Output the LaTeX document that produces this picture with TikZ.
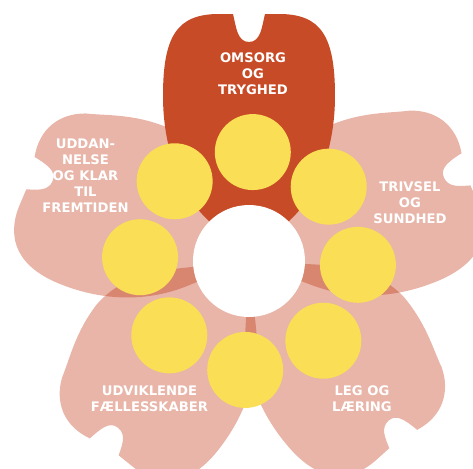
\documentclass[tikz,border=0pt]{standalone}
\usepackage{fontspec}
\setsansfont{DejaVu Sans}
\usepackage{tikz}
\usetikzlibrary{positioning}
\usepackage{xcolor}

\definecolor{petalred}{RGB}{200,75,39}
\definecolor{petalpink}{RGB}{232,181,168}
\definecolor{seampink}{RGB}{217,134,113}
\definecolor{dotyellow}{RGB}{250,222,85}

% top petal, pointing up from the centre of the flower
\newcommand{\toppetal}{(0,0) -- (-47,47) .. controls (-70,72) and (-86,115) .. (-86,165)
  .. controls (-86,225) and (-72,247) .. (-30,247) -- (-16,247)
  .. controls (-13,235) and (-12,219) .. (0,219) .. controls (12,219) and (13,235) .. (16,247)
  -- (30,247) .. controls (72,247) and (86,225) .. (86,165)
  .. controls (86,115) and (70,72) .. (47,47) -- cycle}
% side petal, a bit lopsided (mirror it for the right hand side)
\newcommand{\sidepetal}{(0,0) -- (-47,47) .. controls (-75,75) and (-94,115) .. (-95,165)
  .. controls (-96,210) and (-75,232) .. (-40,233) -- (-21,233)
  .. controls (-17,222) and (-14,212) .. (-3,212) .. controls (8,212) and (10,225) .. (12,238)
  .. controls (40,245) and (62,232) .. (72,208)
  .. controls (78,188) and (90,165) .. (91,130)
  .. controls (90,95) and (70,70) .. (47,47) -- cycle}

\tikzset{
  dot/.style = {circle, fill = dotyellow, minimum size = 1.52cm, inner sep = 0pt},
  hub/.style = {circle, fill = white, minimum size = 2.24cm, inner sep = 0pt},
  label/.style = {text = white, align = center, font = \sffamily\bfseries\fontsize{7.5}{9.1}\selectfont}
}

\begin{document}
\begin{tikzpicture}[x = 0.02cm, y = 0.02cm]
		\useasboundingbox (-249,-207) rectangle (224,261);
		% pink petals
		\foreach \a/\s in {67/1, 141/1, -138/-1, -66/-1}
			\fill[petalpink, rotate = \a, xscale = \s] \sidepetal;
		% darker seams where two pink petals overlap
		\foreach \a/\s/\b/\t in {67/1/141/1, 141/1/-138/-1, -138/-1/-66/-1}
		{
			\begin{scope}
				\clip[rotate = \a, xscale = \s] \sidepetal;
				\fill[seampink, rotate = \b, xscale = \t] \sidepetal;
			\end{scope}
		}
		% top petal
		\fill[petalred] \toppetal;
		\node[hub] (hub) at (0,0) {};
		\foreach \k in {0,...,7}
			\node[dot] (d\k) at ({88 - 45*\k}:109) {};
		\node[label] (omsorg) at (4,187.5) {OMSORG\\OG\\TRYGHED};
		\node[label] (uddannelse) at (-163.5,85) {UDDAN-\\NELSE\\OG KLAR\\TIL\\FREMTIDEN};
		\node[label] (trivsel) at (161,58) {TRIVSEL\\OG\\SUNDHED};
		\node[label] (udviklende) at (-99.5,-138) {UDVIKLENDE\\FÆLLESSKABER};
		\node[label] (leg) at (113,-138) {LEG OG\\LÆRING};
	\end{tikzpicture}
\end{document}
